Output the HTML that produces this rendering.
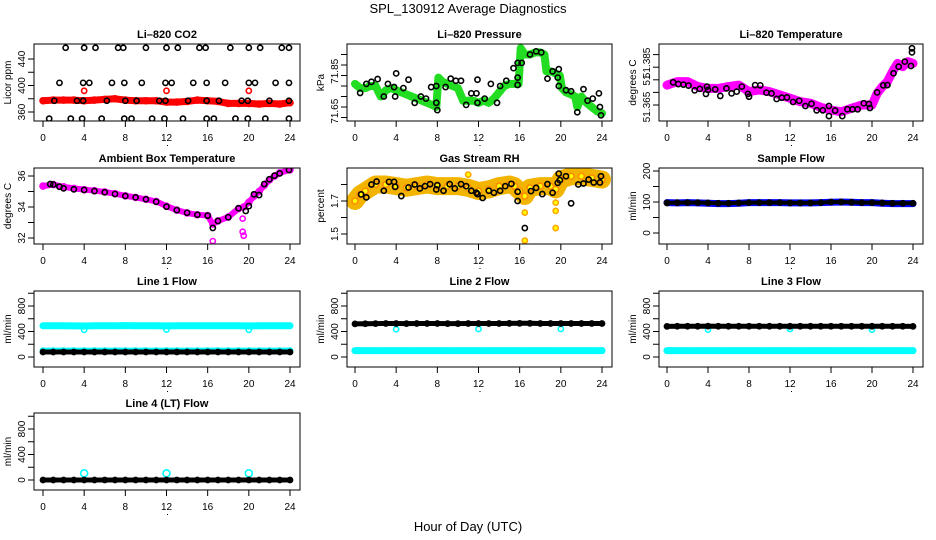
<!DOCTYPE html>
<html><head><meta charset="utf-8"><style>
html,body{margin:0;padding:0;background:#fff;}
svg{display:block;font-family:"Liberation Sans",Arial,sans-serif;}
</style></head><body>
<svg id="chart" width="936" height="540" viewBox="0 0 936 540" xmlns="http://www.w3.org/2000/svg">
<rect width="936" height="540" fill="#fff"/>
<text x="468" y="13" text-anchor="middle" font-size="13">SPL_130912  Average Diagnostics</text>
<text x="468" y="531" text-anchor="middle" font-size="13">Hour of Day (UTC)</text>
<g id="panels"></g>
</svg>
<script>
// ---- data ----
const hours = [0,1,2,3,4,5,6,7,8,9,10,11,12,13,14,15,16,17,18,19,20,21,22,23,24];
const xTicks = [0,4,8,12,16,20,24];

// CO2
const co2Band = [377,378,378,378,377,378,379,380,378,377,377,377,375,375,376,378,377,376,373,373,373,372,373,372,374];
const co2RedT = [4,12,20];
const co2RedV = [392,392,392];
const co2HiT = [2.2,4,5.1,7.3,7.8,10,12,13.1,15.2,15.8,18.2,20,21.1,23.2,23.9];
const co2HiV = [457,457,457,457,457,457,457,457,457,457,457,457,457,457,457];
const co2MidT = [1.6,3.9,4.5,6.7,7.9,9.6,11.9,12.5,14.6,15.9,17.7,20,20.6,22.6,23.9];
const co2MidV = [404,404,404,404,404,404,404,404,404,404,404,404,404,404,404];
const co2LowT = [1.1,3.3,3.9,6.2,8,9.1,11.3,11.9,14.1,15.9,17.1,19.3,19.9,22,23.9];
const co2LowV = [377,377,377,377,377,377,377,377,377,377,377,377,377,377,377];
const co2BotT = [0.6,2.7,3.8,5.7,7.9,8.6,10.6,11.8,13.6,15.9,16.6,18.7,19.9,21.6,23.9];
const co2BotV = [350,350,350,350,350,350,350,350,350,350,350,350,350,350,350];

// Pressure
const presBandT = [0,0.5,1,1.5,2,2.5,3,3.5,4,4.5,5,5.5,6,6.5,7,7.5,7.9,8.1,8.5,9,9.5,10,10.5,11,11.5,12,12.5,13,13.5,14,14.5,15,15.5,15.9,16.1,16.5,17,17.5,18,18.4,18.6,19,19.5,19.9,20.1,20.5,21,21.4,21.6,22,22.5,23,23.5,24];
const presBandV = [71.76,71.74,71.74,71.75,71.75,71.70,71.73,71.74,71.73,71.72,71.71,71.70,71.69,71.68,71.67,71.66,71.65,71.79,71.77,71.76,71.75,71.74,71.68,71.68,71.68,71.67,71.68,71.67,71.69,71.72,71.75,71.76,71.76,71.76,71.93,71.90,71.90,71.91,71.91,71.90,71.82,71.82,71.81,71.80,71.74,71.72,71.71,71.70,71.65,71.70,71.67,71.65,71.63,71.62];
const presDotT = [0.5,1.1,1.6,2.2,2.8,3.2,3.8,3.9,4,4.7,5.2,5.8,6.4,6.9,7.4,7.9,7.9,8,8.8,9.3,9.8,10.3,10.8,11.3,11.8,11.9,11.9,12.6,13.2,13.8,14.1,14.7,15.4,15.8,15.8,15.8,16.2,17,17.6,18.1,18.7,19.2,19.7,19.8,19.8,20.5,21,21.6,22.2,22.6,23.1,23.7,23.8,23.9];
const presDotV = [71.717,71.76,71.77,71.783,71.70,71.76,71.745,71.70,71.81,71.74,71.78,71.67,71.70,71.69,71.745,71.75,71.67,71.635,71.745,71.785,71.775,71.775,71.66,71.715,71.715,71.78,71.67,71.69,71.76,71.67,71.75,71.775,71.835,71.86,71.79,71.755,71.86,71.90,71.915,71.91,71.785,71.82,71.79,71.83,71.75,71.73,71.725,71.625,71.735,71.68,71.69,71.715,71.65,71.61];

// Li-820 Temperature
const tempBandT = [0,1,2,3,4,5,6,7,8,9,10,11,12,13,14,15,16,17,18,19,20,20.5,21,21.5,22,22.5,23,23.5,24];
const tempBandV = [51.3729,51.3743,51.3743,51.3723,51.3716,51.3716,51.3723,51.3729,51.3703,51.3710,51.3703,51.3690,51.3677,51.3663,51.3657,51.3641,51.3630,51.3623,51.3637,51.3650,51.3650,51.3696,51.3723,51.3743,51.3782,51.3815,51.3802,51.3822,51.3815];
const tempDotT = [0.6,1.1,1.6,2.1,2.7,3.2,3.8,3.9,4,4.7,5.2,5.8,6.3,6.8,7.3,7.9,8,8.6,9.1,9.7,10.2,10.7,11.2,11.7,12.3,12.9,13.5,14.1,14.6,15.2,15.8,15.8,16.4,17.1,17.6,18.1,18.6,19.2,19.7,19.8,20.5,21.1,21.5,22.1,22.6,23.2,23.8,23.9,23.9];
const tempDotV = [51.3740,51.3733,51.3731,51.3727,51.3708,51.3714,51.3694,51.3723,51.3710,51.3712,51.3686,51.3716,51.3696,51.3703,51.3723,51.3694,51.3683,51.3729,51.3728,51.3699,51.3696,51.3674,51.3679,51.3680,51.3662,51.3667,51.3646,51.3655,51.3629,51.3629,51.3646,51.3606,51.3628,51.3606,51.3633,51.3633,51.3633,51.3657,51.3654,51.3638,51.3700,51.3728,51.3729,51.3776,51.3802,51.3822,51.3805,51.3875,51.3859];

// Ambient box temperature
const ambBandT = [0,1,2,3,4,5,6,7,8,9,10,11,12,13,14,15,16,16.5,17,18,19,19.5,20,20.5,21,21.5,22,22.5,23,24];
const ambBandV = [35.35,35.45,35.3,35.2,35.12,35.05,34.97,34.86,34.72,34.62,34.5,34.36,34.05,33.8,33.62,33.5,33.45,32.9,33.1,33.35,33.9,34.0,34.3,34.7,35.0,35.4,35.75,36.0,36.2,36.4];
const ambOutT = [16.5,19.4,19.4,19.5];
const ambOutV = [31.8,33.25,32.4,32.15];
const ambDotT = [0.7,1,1.6,2,3,4,5,6,7,8,9,10,11,12,13,14,15,16,16.5,17,18,19,19.7,20,20.5,21,21.5,22,22.5,23,23.9];
const ambDotV = [35.48,35.45,35.31,35.2,35.14,35.1,35.03,34.95,34.84,34.71,34.62,34.5,34.34,34.02,33.8,33.63,33.5,33.44,32.65,33.1,33.34,33.92,33.74,34.06,34.82,34.77,35.48,35.79,36.02,36.17,36.39];

// Gas stream RH
const rhBandT = [0,0.5,1,2,3,4,5,6,7,8,9,10,11,12,13,14,15,15.5,16,16.5,17,18,19,19.5,20,21,22,23,24];
const rhBandV = [1.70,1.74,1.76,1.80,1.80,1.79,1.78,1.79,1.80,1.79,1.79,1.79,1.78,1.76,1.77,1.79,1.80,1.79,1.76,1.73,1.78,1.79,1.79,1.77,1.83,1.85,1.85,1.84,1.83];
const rhOutT = [16.5,16.5,19.5,19.5,19.5,11];
const rhOutV = [1.63,1.46,1.69,1.64,1.536,1.86];
const rhDotT = [0.6,1.1,1.6,2.1,2.8,3.3,3.8,3.9,4.5,5.2,5.8,6.3,6.8,7.3,7.9,8,8.6,9.2,9.7,10.3,10.8,11.3,11.8,11.9,12.4,13,13.5,14.1,14.6,15.2,15.8,15.8,16.5,17.1,17.6,18.2,18.7,19.2,19.7,19.8,19.9,20.5,21,21.7,22.2,22.7,23.2,23.8,23.9];
const rhDotV = [1.740,1.722,1.800,1.818,1.762,1.816,1.816,1.786,1.730,1.782,1.800,1.776,1.790,1.802,1.770,1.796,1.762,1.802,1.776,1.802,1.790,1.762,1.750,1.742,1.718,1.762,1.750,1.762,1.790,1.804,1.756,1.700,1.536,1.760,1.780,1.742,1.802,1.750,1.810,1.866,1.826,1.850,1.686,1.800,1.806,1.830,1.812,1.812,1.850];

// Sample flow
const sampBlue = [98,97,98,97,96,95,95,96,98,98,98,98,97,97,97,98,99,100,99,98,98,96,95,95,95];
const sampBlack = [97,98,98,98,97,96,96,97,98,98,98,98,97,97,97,98,100,100,99,98,98,97,96,96,96];

// Line flows
const l1High = [490,490,490,488,486,490,490,490,492,490,490,490,488,490,490,490,490,490,490,490,488,490,490,490,490];
const l1Low = [100,100,100,100,100,100,100,100,100,100,100,100,100,100,100,100,100,100,100,100,100,100,100,100,100];
const l1Black = [78,78,78,78,78,78,78,78,78,78,78,78,78,78,78,78,78,78,78,78,78,78,78,78,78];
const l1DipT = [4,12,20];
const l1DipV = [425,430,425];
const l2Black = [520,522,524,525,526,524,526,525,525,524,524,525,525,526,526,527,528,528,526,525,525,526,526,525,525];
const l2Low = [100,100,100,100,100,100,100,100,100,100,100,100,100,100,100,100,100,100,100,100,100,100,100,100,100];
const l2DipT = [4,12,20];
const l2DipV = [435,440,440];
const l3Black = [480,482,482,482,484,482,482,482,482,482,482,482,482,482,482,482,482,482,482,482,482,482,482,482,480];
const l3Low = [100,100,100,100,100,100,100,100,100,100,100,100,100,100,100,100,100,100,100,100,100,100,100,100,100];
const l3DipT = [4,12,20];
const l3DipV = [430,440,430];
const l4Black = [0,0,0,0,0,0,0,0,0,0,0,0,0,0,0,0,0,0,0,0,0,0,0,0,0];
const l4SpikeT = [4,12,20];
const l4SpikeV = [105,105,105];

// y tick values & labels
const co2Ticks = [360,380,400,420,440]; const co2Labels = [360,400,440];
const presTicks = [71.60,71.65,71.70,71.75,71.80,71.85,71.90];
const presLabelV = [71.63,71.82]; const presLabelT = ["71.65","71.85"];
const tempTicks = [51.365,51.370,51.375,51.380,51.385];
const tempLabelV = [51.3642,51.3749,51.3817]; const tempLabelT = ["51.365","51","51.385"];
const ambTicks = [32,33,34,35,36]; const ambLabels = [32,34,36];
const rhTicks = [1.5,1.6,1.7,1.8]; const rhLabels = [1.5,1.7];
const sampTicks = [0,50,100,150,200]; const sampLabels = [0,100,200];
const flowTicks = [0,200,400,600,800,1000]; const flowLabels = [0,400,800];

// ---- layout ----
const cols = [{l:34,r:300,x0:43,x24:290},{l:347,r:612,x0:355,x24:602},{l:659,r:923,x0:667,x24:913}];
const rows = [{t:44,b:121},{t:168,b:244},{t:291,b:367},{t:413,b:490}];
const NS = "http://www.w3.org/2000/svg";
const root = document.getElementById('panels');
let clipId = 0;
function mk(tag, attrs, parent){ const e=document.createElementNS(NS,tag); for(const k in attrs) e.setAttribute(k,attrs[k]); parent.appendChild(e); return e; }

function panel(ci, ri, cfg){
  const c = cols[ci], r = rows[ri];
  const g = mk('g',{},root);
  
  
  const xs = t => c.x0 + (c.x24 - c.x0) * t / 24;
  const ys = v => cfg.ya + (v - cfg.va) * (cfg.yb - cfg.ya) / (cfg.vb - cfg.va);
  const id = 'clip' + (clipId++);
  const cp = mk('clipPath',{id:id},g);
  mk('rect',{x:c.l,y:r.t,width:c.r-c.l,height:r.b-r.t},cp);
  const title = mk('text',{x:(c.l+c.r)/2,y:r.t-6,'text-anchor':'middle','font-size':11,'font-weight':'bold'},g);
  title.textContent = cfg.title;
  
  
  const yl = mk('text',{transform:`translate(${c.l-23},${(r.t+r.b)/2}) rotate(-90)`,'text-anchor':'middle','font-size':10},g);
  yl.textContent = cfg.ylabel;
  
  
  const xa = mk('g',{},g);
  
  
  xTicks.forEach(t => {
    mk('line',{x1:xs(t),x2:xs(t),y1:r.b,y2:r.b+6,stroke:'#000','stroke-width':1},xa);
    const tl = mk('text',{x:xs(t),y:r.b+20,'text-anchor':'middle','font-size':10},xa);
    tl.textContent = t;
  });
  mk('rect',{x:(c.l+c.r)/2,y:r.b+24,width:1,height:1,fill:'#000'},xa);
  const ya = mk('g',{},g);
  
  
  cfg.ticks.forEach(v => { mk('line',{x1:c.l-6,x2:c.l,y1:ys(v),y2:ys(v),stroke:'#000','stroke-width':1},ya); });
  cfg.labV.forEach((v,i) => {
    const tl = mk('text',{transform:`translate(${c.l-9},${ys(v)}) rotate(-90)`,'text-anchor':'middle','font-size':10},ya);
    tl.textContent = cfg.labT[i];
  });
  const plot = mk('g',{'clip-path':`url(#${id})`},g);
  cfg.series.forEach(s => {
    const sg = mk('g',{},plot);
    
    
    if (s.band) {
      const pts = s.t.map((t,i)=> xs(t).toFixed(1)+','+ys(s.v[i]).toFixed(1)).join(' ');
      mk('polyline',{points:pts,fill:'none',stroke:s.color,'stroke-width':s.band,'stroke-linejoin':'round','stroke-linecap':'round'},sg);
    }
    if (s.dots !== false) {
      s.t.forEach((t,i) => {
        const ci2 = mk('circle',{cx:xs(t),cy:ys(s.v[i]),r:s.r||2.6,fill:s.fill||'none',stroke:s.dotColor||s.color,'stroke-width':1.6},sg);
        
        
      });
    }
  });
  const box = mk('rect',{x:c.l,y:r.t,width:c.r-c.l,height:r.b-r.t,fill:'none',stroke:'#000','stroke-width':1},g);
  
  
}

panel(0,0,{name:'co2',title:'Li\u2013820 CO2',ylabel:'Licor ppm',va:360,ya:112,vb:440,yb:59,ticks:co2Ticks,labV:co2Labels,labT:co2Labels,series:[
  {name:'co2-band',t:hours,v:co2Band,color:'#ff0000',band:7,r:3},
  {name:'co2-red-outliers',t:co2RedT,v:co2RedV,color:'#ff0000'},
  {name:'co2-black-top',t:co2HiT,v:co2HiV,color:'#000'},
  {name:'co2-black-mid',t:co2MidT,v:co2MidV,color:'#000'},
  {name:'co2-black-low',t:co2LowT,v:co2LowV,color:'#000'},
  {name:'co2-black-bottom',t:co2BotT,v:co2BotV,color:'#000'}]});
panel(1,0,{name:'pressure',title:'Li\u2013820 Pressure',ylabel:'kPa',va:71.65,ya:107,vb:71.85,yb:65,ticks:presTicks,labV:presLabelV,labT:presLabelT,series:[
  {name:'pressure-band',t:presBandT,v:presBandV,color:'#22dd22',band:8,r:3},
  {name:'pressure-black',t:presDotT,v:presDotV,color:'#000'}]});
panel(2,0,{name:'li820-temperature',title:'Li\u2013820 Temperature',ylabel:'degrees C',va:51.365,ya:105,vb:51.385,yb:54.6,ticks:tempTicks,labV:tempLabelV,labT:tempLabelT,series:[
  {name:'temperature-band',t:tempBandT,v:tempBandV,color:'#ff00ff',band:9,r:3},
  {name:'temperature-black',t:tempDotT,v:tempDotV,color:'#000'}]});
panel(0,1,{name:'ambient',title:'Ambient Box Temperature',ylabel:'degrees C',va:32,ya:238,vb:36,yb:176,ticks:ambTicks,labV:ambLabels,labT:ambLabels,series:[
  {name:'ambient-band',t:ambBandT,v:ambBandV,color:'#ff00ff',band:6,r:3},
  {name:'ambient-outliers',t:ambOutT,v:ambOutV,color:'#ff00ff'},
  {name:'ambient-black',t:ambDotT,v:ambDotV,color:'#000'}]});
panel(1,1,{name:'rh',title:'Gas Stream RH',ylabel:'percent',va:1.5,ya:234,vb:1.7,yb:201,ticks:rhTicks,labV:rhLabels,labT:rhLabels,series:[
  {name:'rh-band',t:rhBandT,v:rhBandV,color:'#f3b400',band:18,r:3,fill:'#ffff00',dotColor:'#ff8c00'},
  {name:'rh-outliers',t:rhOutT,v:rhOutV,color:'#ffa500',fill:'#ffff00'},
  {name:'rh-black',t:rhDotT,v:rhDotV,color:'#000'}]});
panel(2,1,{name:'sample-flow',title:'Sample Flow',ylabel:'ml/min',va:0,ya:233,vb:200,yb:171,ticks:sampTicks,labV:sampLabels,labT:sampLabels,series:[
  {name:'sample-flow-blue',t:hours,v:sampBlue,color:'#0000ff',band:7},
  {name:'sample-flow-black',t:hours,v:sampBlack,color:'#000',band:4}]});
panel(0,2,{name:'line1',title:'Line 1 Flow',ylabel:'ml/min',va:0,ya:357,vb:800,yb:306,ticks:flowTicks,labV:flowLabels,labT:flowLabels,series:[
  {name:'line1-cyan-high',t:hours,v:l1High,color:'#00ffff',band:7},
  {name:'line1-cyan-dips',t:l1DipT,v:l1DipV,color:'#00ffff'},
  {name:'line1-cyan-low',t:hours,v:l1Low,color:'#00ffff',band:6},
  {name:'line1-black',t:hours,v:l1Black,color:'#000',band:5}]});
panel(1,2,{name:'line2',title:'Line 2 Flow',ylabel:'ml/min',va:0,ya:357,vb:800,yb:306,ticks:flowTicks,labV:flowLabels,labT:flowLabels,series:[
  {name:'line2-cyan-low',t:hours,v:l2Low,color:'#00ffff',band:7},
  {name:'line2-cyan-dips',t:l2DipT,v:l2DipV,color:'#00ffff'},
  {name:'line2-black',t:hours,v:l2Black,color:'#000',band:5}]});
panel(2,2,{name:'line3',title:'Line 3 Flow',ylabel:'ml/min',va:0,ya:357,vb:800,yb:306,ticks:flowTicks,labV:flowLabels,labT:flowLabels,series:[
  {name:'line3-cyan-low',t:hours,v:l3Low,color:'#00ffff',band:7},
  {name:'line3-cyan-dips',t:l3DipT,v:l3DipV,color:'#00ffff'},
  {name:'line3-black',t:hours,v:l3Black,color:'#000',band:5}]});
panel(0,3,{name:'line4',title:'Line 4 (LT) Flow',ylabel:'ml/min',va:0,ya:480,vb:800,yb:429,ticks:flowTicks,labV:flowLabels,labT:flowLabels,series:[
  {name:'line4-cyan-spikes',t:l4SpikeT,v:l4SpikeV,color:'#00ffff',r:3.5},
  {name:'line4-black',t:hours,v:l4Black,color:'#000',band:5}]});
</script>
</body></html>
